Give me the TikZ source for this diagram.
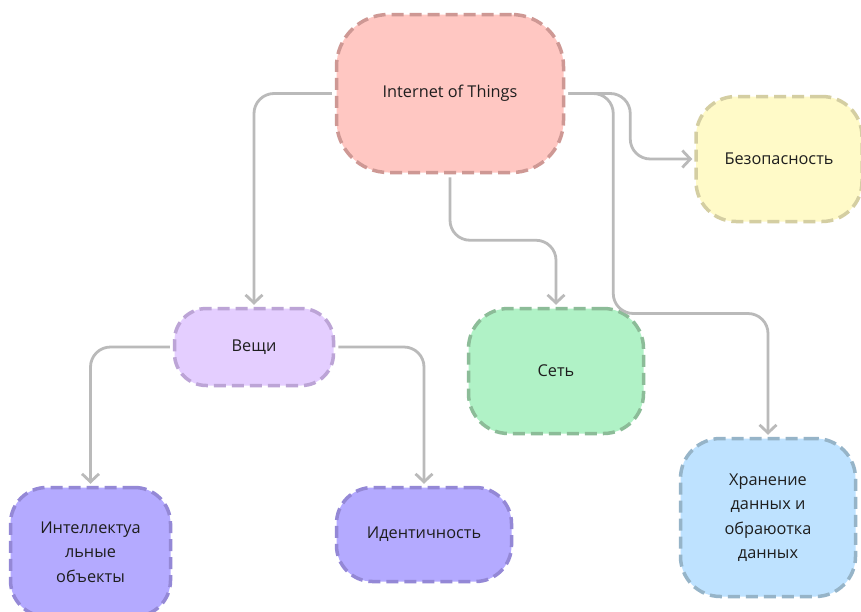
\documentclass[tikz,border=0pt]{standalone}
\usepackage{fontspec}
\setmainfont{Open Sans}
\usepackage{tikz}
\usetikzlibrary{arrows.meta,shapes, positioning}
\usepackage{color}

\definecolor{linkgray}{RGB}{186,186,186}
\definecolor{iotfill}{RGB}{255,199,194}
\definecolor{iotdraw}{RGB}{206,152,148}
\definecolor{bezfill}{RGB}{255,250,200}
\definecolor{bezdraw}{RGB}{212,206,162}
\definecolor{vesfill}{RGB}{228,206,255}
\definecolor{vesdraw}{RGB}{188,164,214}
\definecolor{setfill}{RGB}{176,242,198}
\definecolor{setdraw}{RGB}{140,188,152}
\definecolor{storefill}{RGB}{190,226,255}
\definecolor{storedraw}{RGB}{150,180,200}
\definecolor{objfill}{RGB}{180,170,255}
\definecolor{objdraw}{RGB}{148,136,214}
\definecolor{txt}{RGB}{30,30,30}

\begin{document}
\begin{tikzpicture}[x=1pt, y=-1pt,
  box/.style={rectangle, rounded corners=40pt, line width=3.5pt, dash pattern=on 12pt off 6pt,
    text=txt, font=\fontsize{16.3}{24.5}\selectfont, align=center, inner sep=0pt},
  link/.style={draw=linkgray, line width=2.8pt, rounded corners=20pt,
    -{Straight Barb[length=8pt, width=17pt]}, shorten <=3pt, shorten >=2pt}]
\useasboundingbox [fill=white] (0,0) rectangle (861,611);

\node [box, fill=iotfill, draw=iotdraw, rounded corners=52pt, minimum width=227pt, minimum height=158pt] (iot) at (450,93.5) {Internet of Things};

\node [box, fill=bezfill, draw=bezdraw, minimum width=166pt, minimum height=125pt] (bez) at (779,159) {Безопасность};

\node [box, fill=vesfill, draw=vesdraw, rounded corners=32pt, minimum width=159pt, minimum height=77pt] (veshchi) at (254,347) {Вещи};

\node [box, fill=setfill, draw=setdraw, minimum width=175pt, minimum height=125pt] (set) at (556,371) {Сеть};

\node [box, fill=storefill, draw=storedraw, minimum width=175pt, minimum height=158pt] (store) at (768,517.5) {Хранение\\данных и\\обраюотка\\данных};

\node [box, fill=objfill, draw=objdraw, rounded corners=36pt, minimum width=175pt, minimum height=94pt] (ident) at (424,534.5) {Идентичность};

\node [box, fill=objfill, draw=objdraw, rounded corners=36pt, minimum width=160pt, minimum height=129pt] (intel) at (90.5,552) {Интеллектуа\\льные\\объекты};

\draw [link] (iot.west) -| (veshchi.north);
\draw [link] (iot.south) -- ++(0,66) -| (set.north);
\draw [link] (iot.east) -- ++(65,0) |- (bez.west);
\draw [link] (iot.east) -- ++(48,0) -- ++(0,220) -| (store.north);

\draw [link] (veshchi.west) -| (intel.north);
\draw [link] (veshchi.east) -| (ident.north);
\end{tikzpicture}
\end{document}
